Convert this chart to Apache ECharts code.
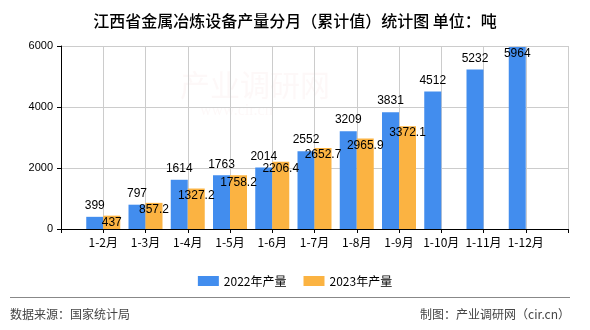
<!DOCTYPE html>
<html><head><meta charset="utf-8">
<script src="https://cdn.jsdelivr.net/npm/echarts@6/dist/echarts.min.js"></script>
<style>html,body{margin:0;padding:0;background:#fff}#c{width:590px;height:330px}</style>
</head><body><div id="c"></div>
<script>
var categories = ['1-2月','1-3月','1-4月','1-5月','1-6月','1-7月','1-8月','1-9月','1-10月','1-11月','1-12月'];
var s2022 = [399,797,1614,1763,2014,2552,3209,3831,4512,5232,5964];
var s2023 = [437,857.2,1327.2,1758.2,2206.4,2652.7,2965.9,3372.1];
var yTicks = [0,2000,4000,6000];
var seriesNames = ['2022年产量','2023年产量'];
var title = '江西省金属冶炼设备产量分月（累计值）统计图 单位：吨';
var source = '数据来源：国家统计局';
var maker = '制图：产业调研网（cir.cn）';

var yMax = yTicks[yTicks.length-1];
var axisData = [''].concat(categories).concat(['']);
function pad(arr){
  var out=[null];
  for(var i=0;i<categories.length;i++){ out.push(i<arr.length?arr[i]:null); }
  out.push(null); return out;
}
var d2022 = pad(s2022).map(function(v){
  if(v===null) return null;
  if(v>yMax*0.95) return {value:v,label:{position:'insideTop',distance:1}};
  return v;
});
var d2023 = pad(s2023);
var font = 'Liberation Sans, Arial, sans-serif';
var chart = echarts.init(document.getElementById('c'));
chart.setOption({
  animation:false,
  title:{text:title,left:'center',top:8,textStyle:{fontSize:16,fontWeight:500,color:'#000',fontFamily:'Noto Sans CJK SC'}},
  grid:{left:61,right:22,top:46,bottom:101,containLabel:false},
  legend:{top:270,left:'center',itemWidth:21,itemHeight:10,itemGap:17,icon:'rect',
    textStyle:{fontSize:12,color:'#000',fontFamily:'Noto Sans CJK SC'},data:seriesNames},
  xAxis:{type:'category',data:axisData,boundaryGap:false,
    axisLine:{lineStyle:{color:'#000',width:1}},
    axisTick:{show:true,interval:0,length:4,lineStyle:{color:'#000'}},
    axisLabel:{interval:0,color:'#000',fontSize:12,margin:7,fontFamily:'Noto Sans CJK SC'},
    splitLine:{show:true,interval:0,lineStyle:{color:'#ccc'}}},
  yAxis:{type:'value',min:0,max:yMax,interval:2000,
    axisLine:{show:true,lineStyle:{color:'#000'}},
    axisTick:{show:true,length:4,lineStyle:{color:'#000'}},
    axisLabel:{color:'#000',fontSize:11,margin:8,fontFamily:font,formatter:function(v){return String(v);}},
    splitLine:{show:true,lineStyle:{color:'#ccc'}}},
  series:[
    {name:seriesNames[0],type:'bar',data:d2022,barWidth:17,barGap:'0%',
     itemStyle:{color:'#428DEE'},
     label:{show:true,position:'top',distance:5,color:'#000',fontSize:12,fontFamily:font}},
    {name:seriesNames[1],type:'bar',data:d2023,barWidth:17,barGap:'0%',
     itemStyle:{color:'#FBB342'},
     label:{show:true,position:'insideTop',distance:1,color:'#000',fontSize:12,fontFamily:font}}
  ],
  graphic:[
    {type:'text',left:180,top:70,silent:true,style:{text:'产业调研网',fontSize:30,fill:'rgba(230,170,170,0.08)',fontFamily:'Noto Sans CJK SC'}},
    {type:'text',left:200,top:103,silent:true,style:{text:'www.cir.cn',fontSize:16,fill:'rgba(230,170,170,0.08)',fontFamily:'Liberation Serif'}},
    {type:'line',shape:{x1:10,y1:297.5,x2:570,y2:297.5},style:{stroke:'#888',lineWidth:1}},
    {type:'text',left:10,top:308,style:{text:source,fontSize:12,fill:'#444',fontFamily:'Noto Sans CJK SC'}},
    {type:'text',right:20,top:308,style:{text:maker,fontSize:12,fill:'#444',fontFamily:'Noto Sans CJK SC'}}
  ]
});
</script></body></html>
